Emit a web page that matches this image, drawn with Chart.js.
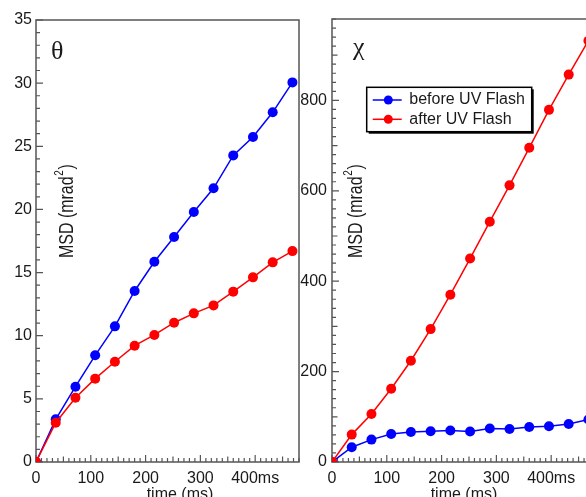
<!DOCTYPE html>
<html>
<head>
<meta charset="utf-8">
<title>MSD before / after UV flash</title>
<script src="https://cdn.jsdelivr.net/npm/chart.js@4.4.1/dist/chart.umd.min.js"></script>
<style>
  html, body { margin: 0; padding: 0; background: #fff; overflow: hidden; width: 586px; height: 497px; }
  #leftPanel { position: absolute; left: 0; top: 0; }
  #rightPanel { position: absolute; left: 290px; top: 0; }
</style>
</head>
<body>
<canvas id="leftPanel" width="305" height="497"></canvas>
<canvas id="rightPanel" width="312" height="497"></canvas>
<script>
// lag times (ms)
var times = [0, 36, 72, 108, 144, 180, 216, 252, 288, 324, 360, 396, 432, 468];

// theta MSD (mrad^2)
var thetaBefore = [0, 3.38, 5.96, 8.45, 10.74, 13.54, 15.86, 17.81, 19.79, 21.67, 24.28, 25.73, 27.69, 30.06];
var thetaAfter  = [0, 3.11, 5.09, 6.6, 7.94, 9.21, 10.06, 11.03, 11.77, 12.4, 13.49, 14.62, 15.81, 16.7];

// chi MSD (mrad^2)
var chiBefore = [0, 32.6, 49.5, 62, 66.5, 68, 69.5, 67.3, 74, 73, 77.5, 79, 84, 94];
var chiAfter  = [0, 60.6, 106, 162, 224, 294, 370, 450, 531.6, 612, 695, 779, 857, 932];

// tick labels
var timeTicks  = [0, 100, 200, 300, 400];
var thetaTicks = [0, 5, 10, 15, 20, 25, 30, 35];
var chiTicks   = [0, 200, 400, 600, 800];

var seriesLabels = ['before UV Flash', 'after UV Flash'];
var seriesColors = ['#0000ff', '#ff0000'];
var xTitle = 'time (ms)';
var yTitle = 'MSD (mrad';

var axisColor = '#555';
var textColor = '#1a1a1a';
Chart.defaults.font.family = '"Liberation Sans", Arial, sans-serif';
Chart.defaults.color = textColor;

function pts(vals) {
  return times.map(function (t, i) { return { x: t, y: vals[i] }; });
}

function series(vals, i) {
  return {
    label: seriesLabels[i],
    data: pts(vals),
    borderColor: seriesColors[i],
    backgroundColor: seriesColors[i],
    pointBackgroundColor: seriesColors[i],
    borderWidth: 1.5,
    pointRadius: 5,
    pointBorderWidth: 0,
    tension: 0,
    order: 2 - i   // red drawn on top
  };
}

function fixedTicks(list) {
  return function (s) { s.ticks = list.map(function (v) { return { value: v }; }); };
}

// frame, inward ticks, panel letter and axis titles
var decor = {
  id: 'decor',
  beforeDatasetsDraw: function (chart, args, o) {
    var ctx = chart.ctx, a = chart.chartArea, xs = chart.scales.x, ys = chart.scales.y;
    var i, v, p, len;
    ctx.save();
    ctx.strokeStyle = axisColor;
    ctx.lineWidth = 1.2;
    ctx.beginPath();
    for (i = 0; i * o.xMinor <= xs.max; i++) {
      v = i * o.xMinor;
      len = v % o.xMajor === 0 ? 7 : (v % o.xMid === 0 ? 5.5 : 4);
      p = xs.getPixelForValue(v);
      ctx.moveTo(p, a.bottom); ctx.lineTo(p, a.bottom - len);
    }
    for (i = 0; i * o.yMinor <= ys.max; i++) {
      v = i * o.yMinor;
      len = v % o.yMajor === 0 ? 7 : (v % o.yMid === 0 ? 5.5 : 4);
      p = ys.getPixelForValue(v);
      ctx.moveTo(a.left, p); ctx.lineTo(a.left + len, p);
    }
    ctx.stroke();
    ctx.lineWidth = 1.5;
    ctx.strokeRect(a.left, a.top, a.right - a.left, a.bottom - a.top);

    ctx.fillStyle = textColor;
    ctx.font = '26px "Liberation Serif", serif';
    ctx.textAlign = 'left';
    ctx.textBaseline = 'alphabetic';
    ctx.fillText(o.symbol, a.left + o.symbolDx, o.symbolY);

    // rotated y title inside the plot
    ctx.save();
    ctx.translate(a.left + o.yTitleDx, 258);
    ctx.rotate(-Math.PI / 2);
    ctx.scale(0.76, 1);
    ctx.font = '21px "Liberation Sans", Arial, sans-serif';
    ctx.fillText(yTitle, 0, 0);
    var w = ctx.measureText(yTitle).width;
    ctx.font = '13px "Liberation Sans", Arial, sans-serif';
    ctx.fillText('2', w + 1, -10);
    var w2 = ctx.measureText('2').width;
    ctx.font = '21px "Liberation Sans", Arial, sans-serif';
    ctx.fillText(')', w + w2 + 2, 0);
    ctx.restore();

    ctx.font = '16px "Liberation Sans", Arial, sans-serif';
    ctx.textAlign = 'center';
    ctx.fillText(xTitle, a.left + o.xTitleDx, 499);
    ctx.restore();
  }
};

// boxed legend with shadow
var boxLegend = {
  id: 'boxLegend',
  afterDraw: function (chart, args, o) {
    if (!o.show) return;
    var ctx = chart.ctx;
    ctx.save();
    ctx.fillStyle = '#000';
    ctx.fillRect(o.x + 2, o.y + 2, o.w, o.h);
    ctx.fillStyle = '#fff';
    ctx.fillRect(o.x, o.y, o.w, o.h);
    ctx.strokeStyle = '#000';
    ctx.lineWidth = 1.5;
    ctx.strokeRect(o.x, o.y, o.w, o.h);
    chart.data.datasets.forEach(function (ds, i) {
      var cy = o.y + 12.7 + i * 19.3;
      ctx.strokeStyle = ds.borderColor;
      ctx.lineWidth = 1.5;
      ctx.beginPath(); ctx.moveTo(o.x + 6, cy); ctx.lineTo(o.x + 35, cy); ctx.stroke();
      ctx.fillStyle = ds.borderColor;
      ctx.beginPath(); ctx.arc(o.x + 21.6, cy, 4.5, 0, Math.PI * 2); ctx.fill();
      ctx.fillStyle = textColor;
      ctx.font = '16px "Liberation Sans", Arial, sans-serif';
      ctx.textBaseline = 'middle';
      ctx.fillText(ds.label, o.x + 42.6, cy);
    });
    ctx.restore();
  }
};

function makeChart(id, before, after, cfg) {
  return new Chart(document.getElementById(id), {
    type: 'line',
    data: { datasets: [series(before, 0), series(after, 1)] },
    options: {
      responsive: false,
      animation: false,
      layout: { padding: { top: cfg.top, right: cfg.right, left: 0, bottom: 0 } },
      plugins: {
        legend: { display: false },
        tooltip: { enabled: false },
        decor: cfg.decor,
        boxLegend: cfg.legend
      },
      scales: {
        x: {
          type: 'linear', min: 0, max: 480,
          afterFit: function (s) { s.height = 35; },
          afterBuildTicks: fixedTicks(timeTicks),
          ticks: {
            padding: 7, maxRotation: 0, autoSkip: false, color: textColor,
            font: { size: 16 },
            callback: function (v) { return v === 400 ? '400ms' : v; }
          },
          grid: { display: false, drawTicks: false },
          border: { display: false }
        },
        y: {
          type: 'linear', min: 0, max: cfg.yMax,
          afterFit: function (s) { s.width = cfg.yWidth; },
          afterBuildTicks: fixedTicks(cfg.yTicks),
          ticks: { padding: cfg.yPad, autoSkip: false, color: textColor, font: { size: 16 } },
          grid: { display: false, drawTicks: false },
          border: { display: false }
        }
      }
    },
    plugins: [decor, boxLegend]
  });
}

makeChart('leftPanel', thetaBefore, thetaAfter, {
  top: 20, right: 6, yMax: 35, yTicks: thetaTicks, yWidth: 36, yPad: 4,
  decor: { xMinor: 10, xMid: 50, xMajor: 100, yMinor: 1, yMid: 5, yMajor: 5,
           symbol: '\u03b8', symbolDx: 15, symbolY: 59, yTitleDx: 37, xTitleDx: 144 },
  legend: { show: false }
});

makeChart('rightPanel', chiBefore, chiAfter, {
  top: 19, right: 7, yMax: 980, yTicks: chiTicks, yWidth: 42, yPad: 5,
  decor: { xMinor: 10, xMid: 50, xMajor: 100, yMinor: 20, yMid: 100, yMajor: 200,
           symbol: '\u03c7', symbolDx: 21, symbolY: 55, yTitleDx: 30, xTitleDx: 132 },
  legend: { show: true, x: 76.7, y: 87.3, w: 165, h: 44.4 }
});
</script>
</body>
</html>
